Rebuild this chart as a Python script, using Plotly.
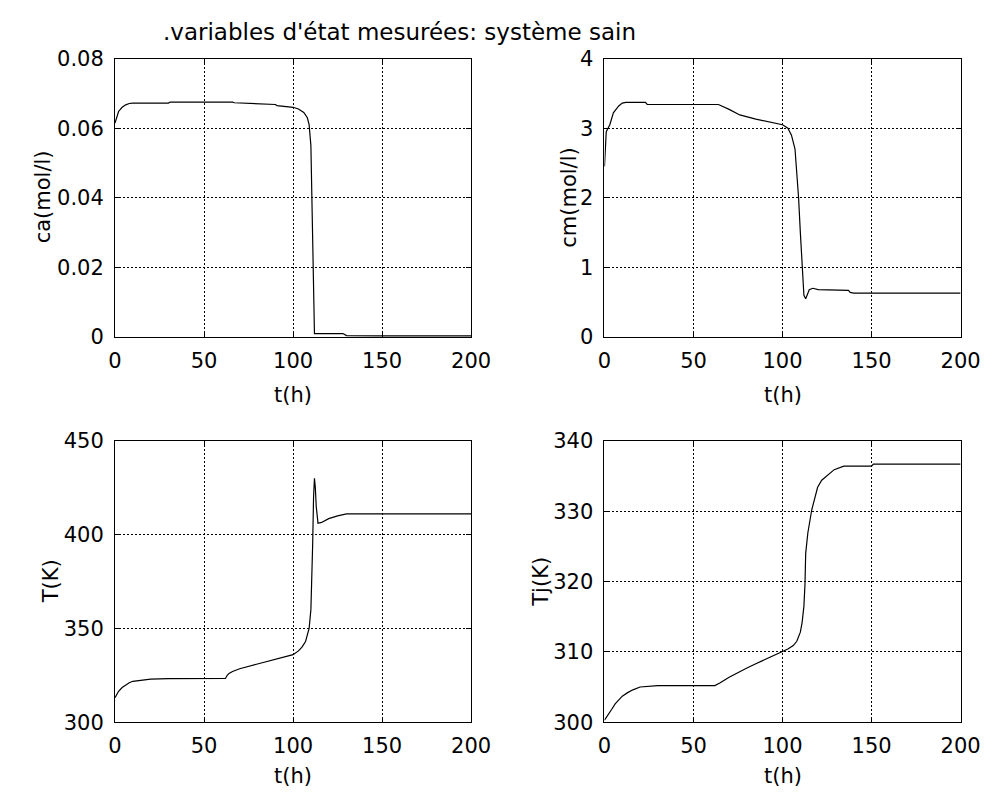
import plotly.graph_objects as go

# ---------------- data ----------------
t_ca = [0, 1, 2, 4, 6, 8, 10, 20, 30, 31, 50, 60, 66, 67, 80, 90, 91, 100, 103, 106, 108, 109,
        110, 110.5, 111, 111.5, 112, 114, 128, 130, 150, 200]
ca = [0.0615, 0.0635, 0.0648, 0.0660, 0.0667, 0.0671, 0.0672, 0.0672, 0.0672, 0.0675, 0.0676,
      0.0676, 0.0675, 0.0673, 0.0671, 0.0668, 0.0665, 0.0660, 0.0655, 0.0645, 0.0630, 0.0610,
      0.055, 0.040, 0.020, 0.005, 0.001, 0.0010, 0.0010, 0.0004, 0.0003, 0.0003]

t_cm = [0, 0.5, 1, 2, 3, 5, 8, 10, 12, 23, 24, 50, 64, 70, 76, 85, 95, 100, 103, 105, 107, 108,
        109, 110, 111, 112, 113, 115, 117, 120, 137, 138, 140, 200]
cm = [2.45, 2.7, 2.95, 3.0, 3.05, 3.22, 3.32, 3.36, 3.37, 3.37, 3.34, 3.34, 3.34, 3.27, 3.19,
      3.13, 3.08, 3.05, 3.0, 2.9, 2.7, 2.4, 2.0, 1.5, 1.0, 0.6, 0.55, 0.68, 0.70, 0.68, 0.67,
      0.64, 0.63, 0.63]

t_T = [0, 1, 2, 4, 6, 8, 10, 15, 20, 30, 40, 62, 63, 64, 66, 70, 80, 90, 95, 100, 103, 105, 107,
       108, 109, 110, 110.5, 111, 111.5, 112, 112.5, 113, 114, 116, 120, 125, 130, 200]
T = [313, 315, 316.5, 318.5, 320, 321, 321.8, 322.5, 323, 323.2, 323.3, 323.3, 325, 326, 327,
     328.5, 331, 333.5, 334.5, 336, 338, 340, 343, 346, 350, 360, 375, 395, 420, 430, 425, 415,
     406, 406.5, 408.5, 410, 411, 411]

t_Tj = [0, 2, 4, 6, 8, 10, 13, 16, 20, 25, 30, 62, 65, 70, 75, 80, 85, 90, 95, 100, 103, 106,
        108, 110, 111, 112, 112.6, 113, 114.2, 116.4, 119.7, 122, 124.6, 129, 134.4, 150, 151, 200]
Tj = [300.3, 301.0, 301.8, 302.6, 303.2, 303.7, 304.2, 304.6, 305.0, 305.1, 305.2, 305.2, 305.6,
      306.4, 307.1, 307.7, 308.3, 308.9, 309.4, 310, 310.4, 310.9, 311.5, 312.8, 314.2, 316.5,
      319.6, 324, 326.9, 330.2, 333.4, 334.4, 335, 335.9, 336.4, 336.4, 336.7, 336.7]

x_ticks = [0, 50, 100, 150, 200]
title_text = ".variables d'état mesurées: système sain"
x_label = "t(h)"
y_labels = ["ca(mol/l)", "cm(mol/l)", "T(K)", "Tj(K)"]

# ---------------- layout ----------------
W, H = 1003, 805
FONT = "DejaVu Sans, Liberation Sans, sans-serif"
FS = 21

def px_x(p):
    return p / W

def px_y(p):
    return 1 - p / H

cols = [(111, 477), (614, 980)]
rows = [(48, 335), (442, 732)]
xlab_y = [395, 787]

fig = go.Figure()

panels = [
    (t_ca, ca, 0, 0, [0, 0.08], 0.02),
    (t_cm, cm, 0, 1, [0, 4], 1),
    (t_T, T, 1, 0, [300, 450], 50),
    (t_Tj, Tj, 1, 1, [300, 340], 10),
]

axis_common = dict(
    showline=True, linecolor="black", linewidth=1, mirror="ticks",
    ticks="inside", ticklen=5, tickcolor="black", tickwidth=1,
    showgrid=True, gridcolor="black", gridwidth=1, griddash="2px,2px",
    zeroline=False, tickfont=dict(family=FONT, size=FS, color="black"),
)

for i, (xs, ys, r, c, yr, dt) in enumerate(panels):
    n = i + 1
    xa = "x" if n == 1 else f"x{n}"
    ya = "y" if n == 1 else f"y{n}"
    fig.add_trace(go.Scatter(x=xs, y=ys, mode="lines",
                             line=dict(color="black", width=1.2),
                             xaxis=xa, yaxis=ya, showlegend=False, hoverinfo="skip"))
    xkey = "xaxis" if n == 1 else f"xaxis{n}"
    ykey = "yaxis" if n == 1 else f"yaxis{n}"
    x0, x1 = cols[c]
    y0, y1 = rows[r]
    fig.layout[xkey] = dict(domain=[px_x(x0), px_x(x1)], range=[0, 200],
                            tickvals=x_ticks, anchor=ya, ticklabelstandoff=5,
                            **axis_common)
    fig.layout[ykey] = dict(domain=[px_y(y1), px_y(y0)], range=yr, dtick=dt,
                            tick0=yr[0], anchor=xa, ticklabelstandoff=6,
                            **axis_common)
    # x label
    fig.add_annotation(text=x_label, xref="paper", yref="paper",
                       x=px_x((x0 + x1) / 2), y=px_y(xlab_y[r]),
                       xanchor="center", yanchor="middle", showarrow=False,
                       font=dict(family=FONT, size=FS, color="black"))

# y labels
ylab_pos = [(37, 191), (578, 191), (46, 587), (549, 587)]
for lab, (xp, yp) in zip(y_labels, ylab_pos):
    fig.add_annotation(text=lab, xref="paper", yref="paper",
                       x=px_x(xp), y=px_y(yp), xanchor="center", yanchor="middle",
                       textangle=-90, showarrow=False,
                       font=dict(family=FONT, size=FS, color="black"))

fig.add_annotation(text=title_text, xref="paper", yref="paper",
                   x=px_x(158), y=px_y(20.5), xanchor="left", yanchor="middle",
                   showarrow=False, font=dict(family=FONT, size=23, color="black"))

fig.update_layout(width=W, height=H, margin=dict(l=0, r=0, t=0, b=0),
                  paper_bgcolor="white", plot_bgcolor="white", showlegend=False)

fig.write_html("out.html")
